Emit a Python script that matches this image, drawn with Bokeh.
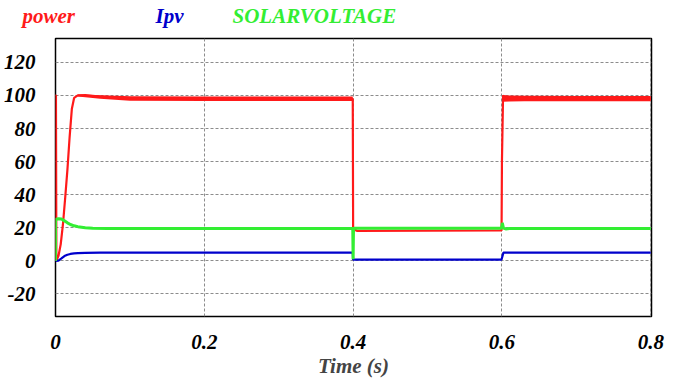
from bokeh.plotting import figure
from bokeh.models import FixedTicker, Range1d
from bokeh.layouts import column, row
from bokeh.core.properties import value
from bokeh.embed import file_html
from bokeh.resources import INLINE

# ---- data ----
power_t = [0, 0, 0.0006, 0.0012, 0.004, 0.007, 0.010, 0.013, 0.016, 0.019, 0.022, 0.025, 0.030, 0.040, 0.060, 0.100, 0.200, 0.3995, 0.4, 0.4005, 0.402, 0.405, 0.5, 0.5995, 0.6, 0.6015, 0.605, 0.62, 0.7, 0.8]
power_v = [0, 100, 100, 0, 3, 10, 22, 38, 55, 75, 92, 98.5, 100, 100.2, 99.3, 98.4, 98.0, 98.0, 20, 17.5, 19.0, 18.2, 18.3, 18.4, 60, 100, 97.5, 98, 98.1, 98.1]

ripple_t1 = [0.030, 0.060, 0.100, 0.200, 0.3995]
ripple_hi1 = [100.6, 100.1, 99.5, 99.4, 99.4]
ripple_lo1 = [99.4, 98.0, 96.8, 96.6, 96.6]
ripple_t2 = [0.601, 0.61, 0.63, 0.7, 0.8]
ripple_hi2 = [100.3, 100.0, 99.8, 99.7, 99.7]
ripple_lo2 = [96.2, 96.3, 96.5, 96.5, 96.5]

ipv_t = [0, 0.004, 0.008, 0.012, 0.016, 0.020, 0.025, 0.030, 0.040, 0.060, 0.3995, 0.4, 0.5995, 0.602, 0.8]
ipv_v = [0, 0.2, 1.5, 2.9, 3.7, 4.2, 4.5, 4.7, 4.9, 5.0, 5.0, 0.8, 0.8, 5.0, 5.0]

volt_t = [0, 0, 0.004, 0.008, 0.012, 0.016, 0.020, 0.025, 0.030, 0.040, 0.050, 0.070, 0.100, 0.3995, 0.4, 0.4005, 0.402, 0.5995, 0.6005, 0.602, 0.605, 0.61, 0.8]
volt_v = [0, 25, 25.5, 25.3, 24.2, 23, 22, 21.2, 20.7, 20.1, 19.8, 19.6, 19.6, 19.6, 1, 19.5, 19.8, 19.8, 23, 19.8, 19.3, 19.6, 19.6]

series_names = ["power", "Ipv", "SOLARVOLTAGE"]

x_ticks = [0, 0.2, 0.4, 0.6, 0.8]
x_tick_labels = ["0", "0.2", "0.4", "0.6", "0.8"]
y_ticks = [-20, 0, 20, 40, 60, 80, 100, 120]
y_tick_labels = ["-20", "0", "20", "40", "60", "80", "100", "120"]

RED = "#ff1a1a"
BLUE = "#0000cc"
GREEN = "#33ee33"
FONT = "Liberation Serif"

W = 674
HEAD_H = 30
H = 380 - HEAD_H
LEFT, RIGHT, TOP, BOTTOM = 54, 23, 8, 60

# ---- header strip with the coloured series names ----
head = figure(width=W, height=HEAD_H, output_backend="svg", toolbar_location=None,
              x_range=Range1d(0, W), y_range=Range1d(0, HEAD_H),
              min_border=0, x_axis_type=None, y_axis_type=None)
head.outline_line_color = None
head.grid.visible = False
legend_x = [22, 155, 232]  # left edges of the header texts (pixels)
head.text(x=legend_x, y=[HEAD_H - 15] * 3, text=series_names,
          text_color=[RED, BLUE, GREEN], text_font=value(FONT),
          text_font_style="bold italic", text_font_size="21px",
          text_baseline="middle", text_align="left")

# ---- main chart ----
p = figure(width=W, height=H, output_backend="svg", toolbar_location=None,
           x_range=Range1d(0, 0.801), y_range=Range1d(-33.6, 134.4),
           min_border_left=LEFT, min_border_right=RIGHT, min_border_top=TOP, min_border_bottom=BOTTOM)

p.outline_line_color = "black"
p.outline_line_width = 1.5
p.background_fill_color = "white"
p.border_fill_color = "white"

for ax in (p.xaxis[0], p.yaxis[0]):
    ax.axis_line_color = None
    ax.major_tick_line_color = None
    ax.minor_tick_line_color = None
    ax.major_label_text_font = FONT
    ax.major_label_text_font_style = "bold italic"
    ax.major_label_text_font_size = "21px"
    ax.major_label_text_color = "black"

p.xaxis[0].ticker = FixedTicker(ticks=x_ticks)
p.yaxis[0].ticker = FixedTicker(ticks=y_ticks)
p.xaxis[0].major_label_overrides = dict(zip(x_ticks, x_tick_labels))
p.yaxis[0].major_label_overrides = dict(zip(y_ticks, y_tick_labels))
p.xaxis[0].major_label_standoff = 12
p.yaxis[0].major_label_standoff = 14
p.xaxis[0].axis_label = "Time (s)"
p.xaxis[0].axis_label_text_font = FONT
p.xaxis[0].axis_label_text_font_style = "bold italic"
p.xaxis[0].axis_label_text_font_size = "21px"
p.xaxis[0].axis_label_standoff = 2

for g in (p.xgrid[0], p.ygrid[0]):
    g.grid_line_color = "#8c8c8c"
    g.grid_line_dash = "3 2"
    g.grid_line_width = 1

# power
p.varea(x=ripple_t1, y1=ripple_lo1, y2=ripple_hi1, fill_color=RED)
p.varea(x=ripple_t2, y1=ripple_lo2, y2=ripple_hi2, fill_color=RED)
p.line(power_t, power_v, line_color=RED, line_width=2.2)
# Ipv
p.line(ipv_t, ipv_v, line_color=BLUE, line_width=2.2)
# solar voltage
p.line(volt_t, volt_v, line_color=GREEN, line_width=3)

layout = column(row(head), row(p), spacing=0)
open("out.html", "w").write(file_html(layout, INLINE))
